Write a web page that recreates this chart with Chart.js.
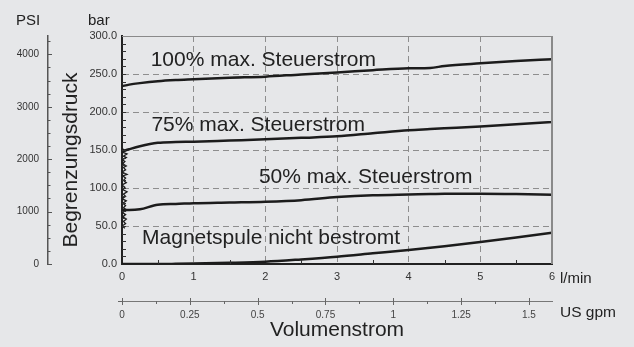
<!DOCTYPE html>
<html>
<head>
<meta charset="utf-8">
<script src="https://cdn.jsdelivr.net/npm/chart.js@4/dist/chart.umd.min.js"></script>
<style>
  html, body { margin: 0; padding: 0; background: #e6e7e9; }
  canvas { display: block; }
</style>
</head>
<body>
<canvas id="chart-druck" width="634" height="347"></canvas>
<script>
'use strict';

// Volumenstrom in l/min
var flow = [0, 0.1, 0.25, 0.5, 0.75, 1, 1.5, 2, 2.5, 3, 3.5, 4, 4.3, 4.5, 5, 5.5, 6];

// Begrenzungsdruck in bar
var p100 = [234, 236, 238, 240.5, 242, 243, 245, 246.5, 249.5, 252, 255, 257.5, 258, 260.5, 264, 267, 269.5];
var p75  = [148, 151, 155, 159.5, 160.5, 161, 162.5, 164, 166, 168, 172, 176, 177.5, 178.5, 181, 184, 187];
var p50  = [71, 71, 72, 78, 79, 80, 81, 82, 84, 88, 90.5, 91.5, 92, 92.5, 92.5, 92, 91];
var p0   = [0, 0, 0, 0, 0.2, 0.5, 1.5, 3, 6, 9.5, 14, 18.5, 21.5, 23.5, 29, 35, 41];

// Unruhe beim Anlauf (senkrechtes Band bei 0 l/min)
var noiseFlow = [0.00, 0.05, 0.01, 0.07, 0.02, 0.06, 0.00, 0.04, 0.01, 0.06, 0.02, 0.05, 0.00, 0.07, 0.01,
                 0.05, 0.02, 0.06, 0.00, 0.04, 0.01, 0.07, 0.02, 0.05, 0.00, 0.06, 0.01, 0.05, 0.02, 0.07,
                 0.00, 0.05, 0.01, 0.06, 0.02, 0.05, 0.00, 0.04];
var noiseBar  = [152, 149, 147, 145, 142, 140, 137, 135, 132, 129, 127, 124, 121, 118, 116,
                 113, 110, 107, 104, 101, 98, 95, 92, 89, 86, 83, 80, 77, 74, 71,
                 68, 65, 62, 59, 56, 53, 50, 47];

// Achsenteilung
var flowMajor  = [0, 1, 2, 3, 4, 5, 6];
var flowLabels = ['0', '1', '2', '3', '4', '5', '6'];
var gpmMajor   = [0, 0.25, 0.5, 0.75, 1, 1.25, 1.5];
var gpmLabels  = ['0', '0.25', '0.5', '0.75', '1', '1.25', '1.5'];
var barMajor   = [0, 50, 100, 150, 200, 250, 300];
var barLabels  = ['0.0', '50.0', '100.0', '150.0', '200.0', '250.0', '300.0'];
var psiMajor   = [0, 1000, 2000, 3000, 4000];
var psiLabels  = ['0', '1000', '2000', '3000', '4000'];

var curveNames = ['100% max. Steuerstrom', '75% max. Steuerstrom', '50% max. Steuerstrom', 'Magnetspule nicht bestromt'];

var BAR_TO_PSI = 14.5038;
var LPM_PER_GPM = 3.78541;

var FONT = "'Liberation Sans', Arial, Helvetica, sans-serif";
var INK = '#1c1c1c';
var GRID = '#8e8e8e';

// Lage der Kurvenbeschriftungen (in Achsenwerten)
var curveLabelPos = [
  { x: 0.40, y: 260.5 },
  { x: 0.41, y: 175.4 },
  { x: 1.91, y: 106.6 },
  { x: 0.28, y: 26.3 }
];

function points(xs, ys) {
  return xs.map(function (x, i) { return { x: x, y: ys[i] }; });
}

function useTicks(values) {
  return function (scale) {
    scale.ticks = values.map(function (v) { return { value: v }; });
  };
}

function curve(label, ys) {
  return {
    label: label,
    data: points(flow, ys),
    borderColor: INK,
    borderWidth: 2.5,
    pointRadius: 0,
    cubicInterpolationMode: 'monotone',
    fill: false
  };
}

var extras = {
  id: 'extras',
  afterDraw: function (chart) {
    var ctx = chart.ctx;
    var a = chart.chartArea;
    var s = chart.scales;
    var i, v, px;

    ctx.save();

    // Rahmen oben und rechts
    ctx.strokeStyle = '#8a8a8a';
    ctx.lineWidth = 1;
    ctx.beginPath();
    ctx.moveTo(a.left, a.top + 0.5);
    ctx.lineTo(a.right, a.top + 0.5);
    ctx.stroke();
    ctx.lineWidth = 2;
    ctx.beginPath();
    ctx.moveTo(a.right, a.top);
    ctx.lineTo(a.right, a.bottom);
    ctx.stroke();

    // Zwischenstriche bar (alle 10 bar, nach innen)
    ctx.strokeStyle = '#333';
    ctx.lineWidth = 1;
    ctx.beginPath();
    for (v = 10; v < 300; v += 10) {
      px = Math.round(s.y.getPixelForValue(v)) + 0.5;
      ctx.moveTo(a.left, px);
      ctx.lineTo(a.left + 4, px);
    }
    // Zwischenstriche l/min (alle 0.5, nach innen)
    for (v = 0.5; v < 6; v += 1) {
      px = Math.round(s.x.getPixelForValue(v)) + 0.5;
      ctx.moveTo(px, a.bottom);
      ctx.lineTo(px, a.bottom - 4);
    }
    ctx.stroke();

    // PSI-Teilung
    var psiX = s.psi.right;
    ctx.strokeStyle = '#555';
    ctx.beginPath();
    for (v = 0; v <= 4250; v += 250) {
      px = Math.round(s.psi.getPixelForValue(v)) + 0.5;
      ctx.moveTo(psiX, px);
      ctx.lineTo(psiX + (v % 1000 === 0 ? 4 : 2.5), px);
    }
    ctx.stroke();

    // US gpm-Teilung
    var gy = s.gpm.top;
    ctx.strokeStyle = '#666';
    ctx.beginPath();
    for (i = 0; i <= 12; i++) {
      v = i * 0.125;
      px = Math.round(s.gpm.getPixelForValue(v)) + 0.5;
      if (i % 2 === 0) {
        ctx.moveTo(px, gy - 3);
        ctx.lineTo(px, gy + 4);
      } else {
        ctx.moveTo(px, gy);
        ctx.lineTo(px, gy + 3);
      }
    }
    ctx.moveTo(a.left - 4, gy + 0.5);
    ctx.lineTo(a.left, gy + 0.5);
    ctx.stroke();

    // Einheiten
    ctx.fillStyle = '#222';
    ctx.textBaseline = 'alphabetic';
    ctx.textAlign = 'left';
    ctx.font = '15px ' + FONT;
    ctx.fillText('PSI', 16, 25);
    ctx.fillText('bar', 88, 25);
    ctx.fillText('l/min', a.right + 8, 283);
    ctx.font = '15.5px ' + FONT;
    ctx.fillText('US gpm', a.right + 8, 317);

    // Kurvenbeschriftung
    ctx.font = '21px ' + FONT;
    curveNames.forEach(function (name, k) {
      var p = curveLabelPos[k];
      ctx.fillText(name, s.x.getPixelForValue(p.x), s.y.getPixelForValue(p.y));
    });

    // Achsentitel Druck
    ctx.translate(71, (a.top + a.bottom) / 2 + 10);
    ctx.rotate(-Math.PI / 2);
    ctx.textAlign = 'center';
    ctx.textBaseline = 'middle';
    ctx.fillText('Begrenzungsdruck', 0, 0);

    ctx.restore();
  }
};

var canvas = document.getElementById('chart-druck');

Chart.defaults.font.family = FONT;

new Chart(canvas, {
  type: 'line',
  data: {
    datasets: [
      curve(curveNames[0], p100),
      curve(curveNames[1], p75),
      curve(curveNames[2], p50),
      curve(curveNames[3], p0),
      {
        label: 'Anlauf',
        data: points(noiseFlow, noiseBar),
        borderColor: INK,
        borderWidth: 1.3,
        pointRadius: 0,
        tension: 0,
        fill: false
      }
    ]
  },
  options: {
    responsive: false,
    animation: false,
    layout: { padding: { top: 36, right: 82, bottom: 0, left: 0 } },
    plugins: {
      legend: { display: false },
      tooltip: { enabled: false }
    },
    scales: {
      x: {
        type: 'linear',
        position: 'bottom',
        weight: 0,
        min: 0,
        max: 6,
        afterBuildTicks: useTicks(flowMajor),
        afterFit: function (sc) { sc.height = 37; },
        grid: {
          drawTicks: false,
          lineWidth: 1,
          color: function (c) {
            return c.tick && (c.tick.value === 0 || c.tick.value === 6) ? 'transparent' : GRID;
          }
        },
        border: { display: true, color: '#222', width: 2, dash: [6, 4] },
        ticks: {
          padding: 6,
          color: '#333',
          font: { size: 11 },
          maxRotation: 0,
          autoSkip: false,
          callback: function (v, i) { return flowLabels[i]; }
        }
      },
      gpm: {
        type: 'linear',
        position: 'bottom',
        weight: 1,
        min: 0,
        max: 6 / LPM_PER_GPM,
        afterBuildTicks: useTicks(gpmMajor),
        afterFit: function (sc) { sc.height = 46; },
        grid: { drawOnChartArea: false, drawTicks: false },
        border: { display: true, color: '#777', width: 1 },
        ticks: {
          padding: 8,
          color: '#444',
          font: { size: 10 },
          maxRotation: 0,
          autoSkip: false,
          callback: function (v, i) { return gpmLabels[i]; }
        },
        title: {
          display: true,
          text: 'Volumenstrom',
          color: '#222',
          font: { size: 21 },
          padding: { top: 0, bottom: 4 }
        }
      },
      y: {
        type: 'linear',
        position: 'left',
        weight: 0,
        min: 0,
        max: 300,
        afterBuildTicks: useTicks(barMajor),
        afterFit: function (sc) { sc.width = 74; },
        grid: {
          drawTicks: false,
          lineWidth: 1,
          color: function (c) {
            return c.tick && (c.tick.value === 0 || c.tick.value === 300) ? 'transparent' : GRID;
          }
        },
        border: { display: true, color: '#222', width: 2, dash: [6, 4] },
        ticks: {
          padding: 5,
          color: '#333',
          font: { size: 11 },
          autoSkip: false,
          callback: function (v, i) { return barLabels[i]; }
        }
      },
      psi: {
        type: 'linear',
        position: 'left',
        weight: 1,
        min: 0,
        max: 300 * BAR_TO_PSI,
        afterBuildTicks: useTicks(psiMajor),
        afterFit: function (sc) { sc.width = 48; },
        grid: { drawOnChartArea: false, drawTicks: false },
        border: { display: true, color: '#555', width: 1.5 },
        ticks: {
          padding: 9,
          color: '#333',
          font: { size: 10 },
          autoSkip: false,
          callback: function (v, i) { return psiLabels[i]; }
        }
      }
    }
  },
  plugins: [extras]
});
</script>
</body>
</html>
